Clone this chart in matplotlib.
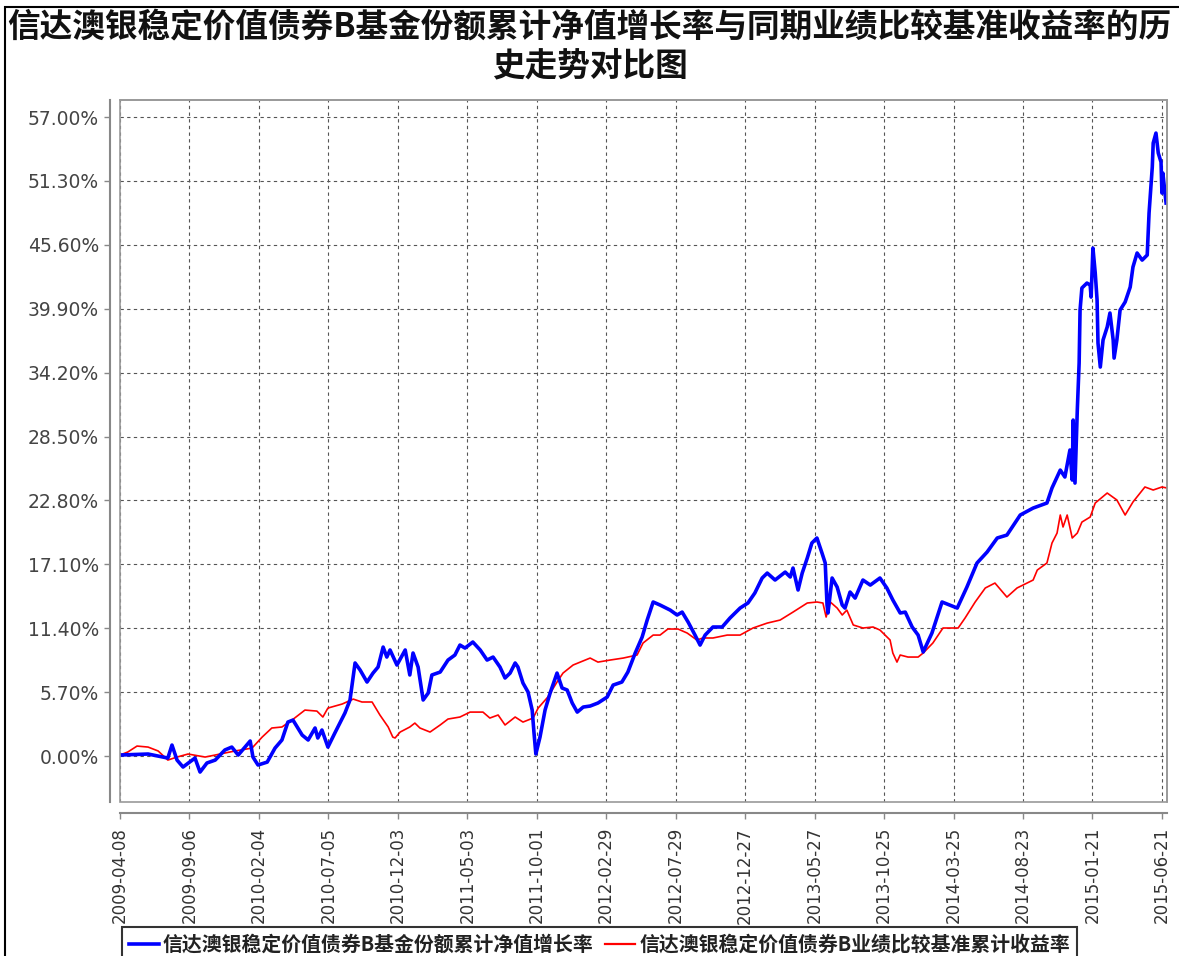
import numpy as np
import pandas as pd
import matplotlib
matplotlib.use('Agg')
import matplotlib.pyplot as plt
from matplotlib.patches import Rectangle
from matplotlib.lines import Line2D

plt.rcParams['font.family'] = ['Noto Sans CJK SC', 'DejaVu Sans']

start = pd.Timestamp('2009-04-08')

tick_labels = ['2009-04-08', '2009-09-06', '2010-02-04', '2010-07-05', '2010-12-03',
               '2011-05-03', '2011-10-01', '2012-02-29', '2012-07-29', '2012-12-27',
               '2013-05-27', '2013-10-25', '2014-03-25', '2014-08-23', '2015-01-21',
               '2015-06-21']
y_ticks = [0.0, 5.7, 11.4, 17.1, 22.8, 28.5, 34.2, 39.9, 45.6, 51.3, 57.0]

# days since 2009-04-08, cumulative return in %
fund_days = [0, 61, 93, 104, 113, 124, 137, 163, 174, 189, 207, 228, 243, 257, 283, 289,
             300, 320, 337, 352, 365, 376, 396, 409, 424, 430, 439, 452, 467, 489, 500,
             511, 522, 537, 550, 561, 572, 580, 587, 602, 620, 630, 637, 648, 659, 670,
             678, 696, 713, 728, 739, 750, 767, 783, 798, 811, 826, 837, 848, 859, 865,
             876, 887, 896, 900, 904, 913, 924, 935, 950, 961, 972, 983, 994, 1007, 1022,
             1039, 1059, 1072, 1091, 1104, 1120, 1135, 1146, 1159, 1174, 1196, 1211, 1222,
             1235, 1250, 1261, 1272, 1289, 1309, 1326, 1348, 1365, 1380, 1396, 1407, 1424,
             1446, 1457, 1463, 1474, 1483, 1494, 1504, 1515, 1526, 1533, 1537, 1539, 1548,
             1559, 1570, 1576, 1587, 1598, 1615, 1631, 1652, 1667, 1680, 1696, 1707, 1722,
             1735, 1746, 1765, 1787, 1820, 1841, 1863, 1885, 1907, 1928, 1957, 1985, 2015,
             2026, 2044, 2054, 2061, 2065, 2070, 2072, 2076, 2081, 2085, 2087, 2091, 2102,
             2109, 2111, 2115, 2120, 2124, 2126, 2131, 2137, 2146, 2152, 2159, 2161, 2167,
             2174, 2185, 2196, 2202, 2211, 2222, 2233, 2237, 2244, 2246, 2252, 2257, 2263,
             2265, 2267, 2274]
fund_vals = [0.09, 0.18, -0.09, -0.18, 0.98, -0.36, -0.98, -0.18, -1.43, -0.62, -0.36, 0.54,
             0.80, 0.09, 1.34, -0.09, -0.80, -0.54, 0.71, 1.43, 3.03, 3.21, 1.87, 1.43, 2.50,
             1.61, 2.32, 0.80, 2.05, 3.84, 5.00, 8.30, 7.67, 6.60, 7.40, 7.94, 9.72, 8.83,
             9.46, 8.12, 9.46, 7.23, 9.19, 7.94, 5.00, 5.62, 7.23, 7.49, 8.56, 9.01, 9.90,
             9.63, 10.17, 9.46, 8.56, 8.83, 7.94, 6.96, 7.40, 8.30, 7.94, 6.51, 5.71, 4.10,
             2.05, 0.18, 1.69, 4.10, 5.62, 7.40, 6.07, 5.89, 4.73, 3.92, 4.37, 4.46, 4.73,
             5.26, 6.33, 6.60, 7.49, 9.19, 10.61, 12.13, 13.74, 13.47, 13.02, 12.58, 12.84,
             11.95, 10.79, 9.90, 10.79, 11.51, 11.51, 12.31, 13.20, 13.65, 14.54, 15.88,
             16.32, 15.70, 16.41, 15.97, 16.77, 14.81, 16.32, 17.66, 19.00, 19.45, 18.11,
             17.22, 13.47, 12.76, 15.88, 15.07, 13.47, 13.20, 14.63, 14.09, 15.70, 15.25,
             15.88, 14.99, 13.92, 12.76, 12.84, 11.51, 10.79, 9.28, 10.97, 13.74, 13.20,
             15.07, 17.22, 18.20, 19.45, 19.71, 21.50, 22.12, 22.57, 23.91, 25.51, 24.89,
             26.40, 27.30, 24.62, 29.97, 24.35, 30.86, 35.06, 39.78, 41.75, 42.19, 42.01,
             40.94, 45.31, 43.08, 40.68, 36.84, 34.70, 37.11, 38.27, 39.52, 37.11, 35.50,
             37.11, 39.78, 40.50, 41.83, 43.62, 44.87, 44.24, 44.69, 48.44, 52.54, 54.68,
             55.57, 53.79, 52.98, 50.22, 52.00, 49.33]

bench_days = [0, 17, 37, 61, 83, 104, 124, 148, 185, 207, 228, 250, 287, 309, 330, 352, 374,
              402, 428, 441, 452, 483, 507, 526, 548, 565, 583, 593, 598, 609, 630, 641,
              652, 674, 696, 713, 739, 761, 789, 804, 822, 837, 859, 876, 898, 909, 930,
              950, 963, 985, 1022, 1039, 1065, 1094, 1124, 1137, 1159, 1174, 1191, 1213,
              1233, 1254, 1267, 1289, 1320, 1348, 1376, 1407, 1435, 1463, 1494, 1515, 1528,
              1535, 1544, 1559, 1570, 1580, 1594, 1615, 1637, 1652, 1674, 1680, 1689, 1696,
              1713, 1735, 1746, 1767, 1789, 1822, 1837, 1859, 1881, 1902, 1928, 1950, 1985,
              1994, 2015, 2026, 2037, 2044, 2050, 2059, 2070, 2081, 2091, 2109, 2120, 2146,
              2167, 2185, 2202, 2228, 2246, 2265, 2276]
bench_vals = [0.09, 0.36, 0.89, 0.80, 0.45, -0.36, -0.09, 0.18, -0.09, 0.09, 0.27, 0.45,
              0.71, 1.69, 2.50, 2.59, 3.21, 4.10, 4.01, 3.48, 4.28, 4.64, 5.08, 4.82, 4.82,
              3.66, 2.59, 1.69, 1.61, 2.14, 2.59, 2.94, 2.50, 2.14, 2.77, 3.30, 3.48, 3.92,
              3.92, 3.39, 3.66, 2.77, 3.48, 3.03, 3.39, 4.28, 5.26, 6.60, 7.40, 8.12, 8.74,
              8.38, 8.56, 8.74, 9.01, 10.08, 10.79, 10.79, 11.33, 11.33, 10.97, 10.35, 10.53,
              10.53, 10.79, 10.79, 11.42, 11.86, 12.13, 12.84, 13.65, 13.74, 13.65, 12.40,
              13.74, 13.20, 12.58, 13.02, 11.69, 11.42, 11.51, 11.24, 10.35, 9.19, 8.38, 9.01,
              8.83, 8.83, 9.19, 10.08, 11.42, 11.42, 12.31, 13.74, 14.99, 15.43, 14.18, 14.99,
              15.70, 16.59, 17.22, 19.00, 19.89, 21.50, 20.43, 21.50, 19.45, 19.89, 20.87,
              21.32, 22.57, 23.46, 22.84, 21.50, 22.66, 24.00, 23.73, 24.00, 23.91]

fund_label = '信达澳银稳定价值债券B基金份额累计净值增长率'
bench_label = '信达澳银稳定价值债券B业绩比较基准累计收益率'
title = '信达澳银稳定价值债券B基金份额累计净值增长率与同期业绩比较基准收益率的历\n史走势对比图'

W, H = 1179, 956
fig = plt.figure(figsize=(W / 100, H / 100), dpi=100)
ax = fig.add_axes([120 / W, 1 - 802 / H, (1167 - 120) / W, (802 - 100) / H])

# spines first: moving them resets tick settings
for s in ['top', 'right']:
    ax.spines[s].set_color('#999999')
    ax.spines[s].set_linewidth(1.2)
ax.spines['left'].set_position(('outward', 7))
ax.spines['bottom'].set_position(('outward', 8))
for s in ['left', 'bottom']:
    ax.spines[s].set_color('#888888')
    ax.spines[s].set_linewidth(1.5)
ax.add_patch(Rectangle((0, 0), 1, 1, transform=ax.transAxes, fill=False,
                       ec='#999999', lw=1.2, clip_on=False, zorder=5))

tick_pos = [(pd.Timestamp(t) - start).days for t in tick_labels]

ax.plot(bench_days, bench_vals, color='#ff0000', lw=1.2, zorder=3)
ax.plot(fund_days, fund_vals, color='#0000ff', lw=2.6, zorder=4)

ax.set_xlim(0, 2276)
ax.set_ylim(-4.10, 58.52)
ax.set_xticks(tick_pos)
ax.set_xticklabels(tick_labels, rotation=90, fontsize=12, family='DejaVu Sans')
ax.set_yticks(y_ticks)
ax.set_yticklabels([f'{v:.2f}%' for v in y_ticks], fontsize=13.5, family='DejaVu Sans')
ax.tick_params(axis='both', colors='#888888', length=4, width=1)
ax.tick_params(axis='y', pad=4, labelcolor='#444444')
ax.tick_params(axis='x', pad=6, labelcolor='#333333')

ax.grid(True, color='#555555', linestyle=(0, (3, 3)), lw=0.8)
ax.set_axisbelow(True)

fig.text(0.5, 1 - 27 / H, title.split('\n')[0], ha='center', va='center',
         fontsize=23.5, weight='bold', color='#111111')
fig.text(0.5, 1 - 66 / H, title.split('\n')[1], ha='center', va='center',
         fontsize=23.5, weight='bold', color='#111111')

# outer frame (left and top edges visible)
fig.add_artist(Rectangle((5 / W, -0.05), 1.1, 1 - 7 / H + 0.05, transform=fig.transFigure,
                         fill=False, ec='black', lw=1.5))

handles = [Line2D([], [], color='#0000ff', lw=2.6), Line2D([], [], color='#ff0000', lw=1.6)]
leg = fig.legend(handles, [fund_label, bench_label], loc='upper left',
                 bbox_to_anchor=(122 / W, 1 - 927 / H), ncol=2, frameon=True,
                 fancybox=False, edgecolor='black', handlelength=1.5, handletextpad=0.2,
                 columnspacing=0.6, borderpad=0.35, borderaxespad=0,
                 prop={'size': 14.3, 'weight': 'bold'})
leg.get_frame().set_linewidth(1.5)
for t in leg.get_texts():
    t.set_color('#222222')

fig.savefig('out.png', dpi=100)
